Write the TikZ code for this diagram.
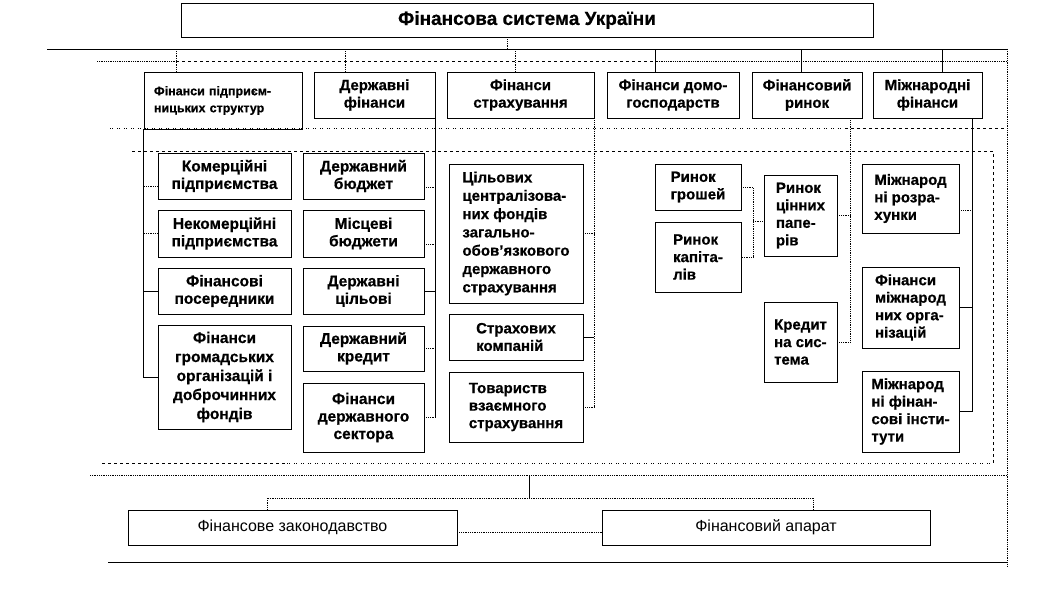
\documentclass[tikz,border=0pt]{standalone}
\usepackage{fontspec}
\setmainfont{Liberation Sans}[BoldFeatures = {FakeBold = 0.6}]
\usetikzlibrary{positioning}

\begin{document}
\begin{tikzpicture}[x = 1pt, y = -1pt,
    box/.style n args = {2}{draw = black, line width = 0.8pt, inner sep = 0pt, minimum width = #1pt, minimum height = #2pt, font = \bfseries\fontsize{15}{17.5}\selectfont},
    boxc/.style n args = {2}{box = {#1}{#2}, align = center},
    boxl/.style n args = {2}{box = {#1}{#2}, align = left},
    link/.style = {line width = 0.8pt},
    dotlink/.style = {line width = 0.8pt, densely dotted},
    sparse/.style = {line width = 0.8pt, dash pattern = on 1pt off 1pt on 1pt off 4pt},
    colfont/.style = {font = \bfseries\fontsize{15.5}{17.5}\selectfont}]

    \useasboundingbox (0,0) rectangle (1049,615);

    \node [boxc = {692}{34}, font = \bfseries\fontsize{19}{22}\selectfont] (title) at (527,20) {Фінансова система України};

    \node [boxl = {158}{57}, text width = 138pt, font = \bfseries\fontsize{12.5}{17}\selectfont] (pidpr) at (223,100.5) {Фінанси підприєм-\\ницьких структур};
    \node [boxc = {121}{46}] (derzh)  at (374.5,95)  {Державні\\фінанси};
    \node [boxc = {147}{46}] (strakh) at (520.5,95)  {Фінанси\\страхування};
    \node [boxc = {132}{46}] (domo)   at (673,95)    {Фінанси домо-\\господарств};
    \node [boxc = {110}{46}] (rynok)  at (807,95)    {Фінансовий\\ринок};
    \node [boxc = {109}{46}] (mizhn)  at (927.5,95)  {Міжнародні\\фінанси};

    \node [boxc = {133}{46}, colfont] (komerc)   at (224.5,176)   {Комерційні\\підприємства};
    \node [boxc = {133}{47}, colfont] (nekomerc) at (224.5,233.5) {Некомерційні\\підприємства};
    \node [boxc = {133}{46}, colfont] (posered)  at (224.5,291)   {Фінансові\\посередники};
    \node [boxc = {133}{104}, font = \bfseries\fontsize{15.5}{19}\selectfont] (gromad) at (224.5,377) {Фінанси\\громадських\\організацій і\\доброчинних\\фондів};

    \node [boxc = {121}{46}, colfont] (budzhet)  at (363.5,176)   {Державний\\бюджет};
    \node [boxc = {121}{47}, colfont] (mistsevi) at (363.5,233.5) {Місцеві\\бюджети};
    \node [boxc = {121}{46}, colfont] (tsilovi)  at (363.5,291)   {Державні\\цільові};
    \node [boxc = {121}{45}, colfont] (kredyt)   at (363.5,348.5) {Державний\\кредит};
    \node [boxc = {121}{69}, colfont] (sektor)   at (363.5,417.5) {Фінанси\\державного\\сектора};

    \node [boxl = {134}{139}, font = \bfseries\fontsize{15}{18.3}\selectfont] (fondy) at (516,233.5) {Цільових\\централізова-\\них фондів\\загально-\\обов’язкового\\державного\\страхування};
    \node [boxl = {134}{46}] (kompanii) at (516,337) {Страхових\\компаній};
    \node [boxl = {134}{70}] (tovar)    at (516,407) {Товариств\\взаємного\\страхування};

    \node [boxl = {86}{46}] (groshi)  at (698,187)   {Ринок\\грошей};
    \node [boxl = {86}{70}] (kapital) at (698,257)   {Ринок\\капіта-\\лів};
    \node [boxl = {73}{81}] (papery)  at (800.5,215.5) {Ринок\\цінних\\папе-\\рів};
    \node [boxl = {73}{80}] (kredsys) at (800.5,342) {Кредит\\на сис-\\тема};

    \node [boxl = {97}{69}] (rozrakh) at (910.5,198.5) {Міжнарод\\ні розра-\\хунки};
    \node [boxl = {97}{81}] (orgs)    at (910.5,307.5) {Фінанси\\міжнарод\\них орга-\\нізацій};
    \node [boxl = {97}{81}] (instyt)  at (910.5,411.5) {Міжнарод\\ні фінан-\\сові інсти-\\тути};

    \node [boxc = {329}{35}, font = \fontsize{16}{19}\selectfont] (zakon)  at (292.5,527.5) {Фінансове законодавство};
    \node [boxc = {328}{35}, font = \fontsize{16}{19}\selectfont] (aparat) at (766,527.5)   {Фінансовий апарат};

    % frame lines
    \draw [link] (47,49) -- (1007,49);
    \draw [dotlink] (97,61) -- (176,61);
    \draw [dashed, line width = 0.8pt] (176,61) -- (657,61);
    \draw [dotlink] (657,61) -- (1007,61);
    \draw [sparse] (110,128) -- (845,128);
    \draw [dashed, line width = 0.8pt] (845,128) -- (1007,128);
    \draw [dashed, line width = 0.8pt] (132,151) -- (993,151) -- (993,463);
    \draw [dotlink] (1007,49) -- (1007,567);
    \draw [dashed, line width = 0.8pt] (102,463) -- (287,463);
    \draw [sparse] (287,463) -- (993,463);
    \draw [dotlink] (90,475) -- (1007,475);
    \draw [link] (108,562) -- (1007,562);

    % drops from the top line
    \coordinate (busl) at (47,49);
    \draw [dotlink] ([xshift = -20pt]title.south) -- ([xshift = -20pt]title.south |- busl);
    \draw [dotlink] ([xshift = -47pt]pidpr.north) -- ([xshift = -47pt]pidpr.north |- busl);
    \draw [dotlink] ([xshift = -29.5pt]derzh.north) -- ([xshift = -29.5pt]derzh.north |- busl);
    \draw [dotlink] ([xshift = -5.5pt]strakh.north) -- ([xshift = -5.5pt]strakh.north |- busl);
    \draw [link] ([xshift = -18pt]domo.north) -- ([xshift = -18pt]domo.north |- busl);
    \draw [link] ([xshift = -6pt]rynok.north) -- ([xshift = -6pt]rynok.north |- busl);
    \draw [link] ([xshift = 14.5pt]mizhn.north) -- ([xshift = 14.5pt]mizhn.north |- busl);

    % enterprises
    \draw [link] (pidpr.south west) -- (pidpr.south west |- gromad.west) -- (gromad.west);
    \draw [dotlink] ([yshift = -10pt]komerc.west) -- ([yshift = -10pt]komerc.west -| pidpr.south west);
    \draw [dotlink] (nekomerc.west) -- (nekomerc.west -| pidpr.south west);
    \draw [link] (posered.west) -- (posered.west -| pidpr.south west);

    % state finance
    \draw [link] (derzh.south east) -- (derzh.south east |- sektor.east);
    \draw [dotlink] ([yshift = -11pt]budzhet.east) -- ([yshift = -11pt]budzhet.east -| derzh.south east);
    \draw [dotlink] ([yshift = -11pt]mistsevi.east) -- ([yshift = -11pt]mistsevi.east -| derzh.south east);
    \draw [link] (tsilovi.east) -- (tsilovi.east -| derzh.south east);
    \draw [dotlink] (kredyt.east) -- (kredyt.east -| derzh.south east);
    \draw [dotlink] (sektor.east) -- (sektor.east -| derzh.south east);

    % insurance
    \draw [dotlink] (strakh.south east) -- (strakh.south east |- tovar.east);
    \draw [dotlink] (fondy.east) -- (fondy.east -| strakh.south east);
    \draw [link] (kompanii.east) -- (kompanii.east -| strakh.south east);
    \draw [dotlink] (tovar.east) -- (tovar.east -| strakh.south east);

    % market
    \coordinate (rjoin) at (753,221);
    \coordinate (rynokdrop) at ([xshift = -12pt]rynok.south east);
    \draw [dotlink] (groshi.east) -| (rjoin) |- (kapital.east);
    \draw [dotlink] (rjoin) -- (rjoin -| papery.west);
    \draw [dotlink] (rynokdrop) -- (rynokdrop |- kredsys.east);
    \draw [dotlink] (papery.east) -- (papery.east -| rynokdrop);
    \draw [dotlink] (kredsys.east) -- (kredsys.east -| rynokdrop);

    % international
    \coordinate (mizhndrop) at ([xshift = -10pt]mizhn.south east);
    \draw [link] (mizhndrop) -- (mizhndrop |- instyt.east);
    \draw [dotlink] ([yshift = -12pt]rozrakh.east) -- ([yshift = -12pt]rozrakh.east -| mizhndrop);
    \draw [link] (orgs.east) -- (orgs.east -| mizhndrop);
    \draw [link] (instyt.east) -- (instyt.east -| mizhndrop);

    % law and apparatus
    \coordinate (lowtop) at (529,475);
    \coordinate (lowjoin) at (529,498);
    \draw [link] (lowtop) -- (lowjoin);
    \draw [dotlink] ([xshift = -25.5pt]zakon.north) |- (lowjoin);
    \draw [dotlink] (lowjoin) -| ([xshift = 47pt]aparat.north);
    \draw [dotlink] ([yshift = -5pt]zakon.east) -- ([yshift = -5pt]aparat.west);
\end{tikzpicture}
\end{document}
